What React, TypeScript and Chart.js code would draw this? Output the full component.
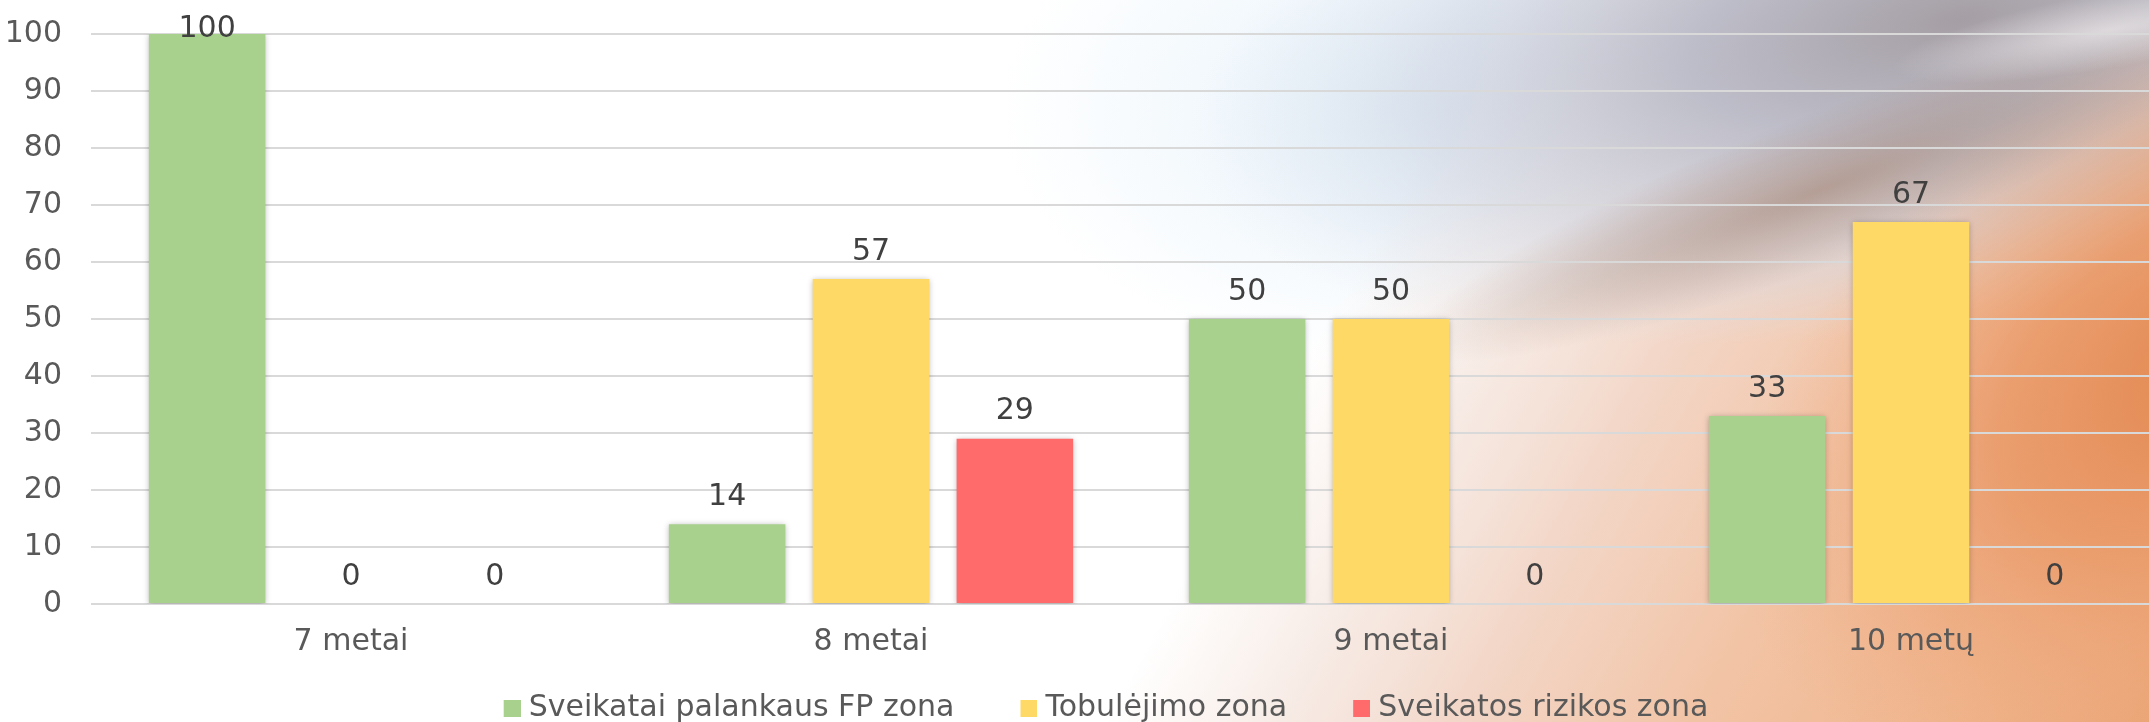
import React, { useEffect, useRef } from "react";
import { Chart, registerables } from "chart.js";

Chart.register(...registerables);

const categories = ["7 metai", "8 metai", "9 metai", "10 metų"];
const seriesNames = ["Sveikatai palankaus FP zona", "Tobulėjimo zona", "Sveikatos rizikos zona"];
const favorableZone = [100, 14, 50, 33];
const improvementZone = [0, 57, 50, 67];
const riskZone = [0, 29, 0, 0];
const seriesColors = ["#A9D18E", "#FFD966", "#FF6B6B"];
const yMin = 0;
const yMax = 100;
const yStep = 10;

const FONT = "'DejaVu Sans', sans-serif";
const TICK_COLOR = "#595959";
const LABEL_COLOR = "#404040";
const SWATCH = 17;
const SWATCH_SLOT = 51;

function makeSwatch(color: string) {
  const c = document.createElement("canvas");
  c.width = SWATCH_SLOT + 14;
  c.height = SWATCH;
  const g = c.getContext("2d");
  if (g) {
    g.fillStyle = color;
    g.fillRect(c.width - SWATCH, 0, SWATCH, SWATCH);
  }
  return c;
}

function ellipseGlow(
  ctx: CanvasRenderingContext2D,
  cx: number,
  cy: number,
  rx: number,
  ry: number,
  angleDeg: number,
  stops: [number, string][]
) {
  ctx.save();
  ctx.translate(cx, cy);
  ctx.rotate((angleDeg * Math.PI) / 180);
  ctx.scale(rx / ry, 1);
  const g = ctx.createRadialGradient(0, 0, 0, 0, 0, ry);
  stops.forEach(([o, c]) => g.addColorStop(o, c));
  ctx.fillStyle = g;
  ctx.beginPath();
  ctx.arc(0, 0, ry, 0, Math.PI * 2);
  ctx.fill();
  ctx.restore();
}

const backgroundPainter = {
  id: "backgroundPainter",
  beforeDraw(chart: any) {
    const ctx: CanvasRenderingContext2D = chart.ctx;
    const w = chart.width;
    const h = chart.height;
    ctx.save();
    ctx.fillStyle = "#ffffff";
    ctx.fillRect(0, 0, w, h);
    // faint icy-blue tint
    ellipseGlow(ctx, 1430, 110, 430, 260, 0, [
      [0, "rgba(226,240,250,0.9)"],
      [1, "rgba(226,240,250,0)"],
    ]);
    // broad peach sweep (diagonal)
    const pg = ctx.createLinearGradient(100, -182, 2049, 904);
    pg.addColorStop(0, "rgba(246,230,222,0)");
    pg.addColorStop(0.59, "rgba(246,230,222,0)");
    pg.addColorStop(0.66, "rgba(244,228,220,0.75)");
    pg.addColorStop(0.73, "rgba(242,212,196,0.95)");
    pg.addColorStop(0.82, "rgba(242,196,166,1)");
    pg.addColorStop(0.92, "rgba(240,182,142,1)");
    pg.addColorStop(1, "rgba(235,165,118,1)");
    ctx.fillStyle = pg;
    ctx.fillRect(0, 0, w, h);
    // grey-lavender towards the top right
    ellipseGlow(ctx, 1960, 20, 780, 300, -10, [
      [0, "rgba(165,158,164,1)"],
      [0.35, "rgba(186,187,200,0.95)"],
      [0.7, "rgba(208,213,226,0.6)"],
      [1, "rgba(222,229,240,0)"],
    ]);
    // deeper orange glow at the right edge
    ellipseGlow(ctx, 2220, 360, 540, 330, -35, [
      [0, "rgba(226,135,80,1)"],
      [0.45, "rgba(233,152,102,0.85)"],
      [1, "rgba(238,172,130,0)"],
    ]);
    // brown streak
    ellipseGlow(ctx, 1820, 190, 440, 75, -21, [
      [0, "rgba(158,122,102,0.55)"],
      [0.6, "rgba(165,132,115,0.25)"],
      [1, "rgba(170,140,125,0)"],
    ]);
    // soft white swirl at top right corner
    ellipseGlow(ctx, 2110, 30, 220, 38, -10, [
      [0, "rgba(238,234,234,0.7)"],
      [1, "rgba(238,234,234,0)"],
    ]);
    ctx.restore();
  },
};

const barEffects = {
  id: "barEffects",
  beforeDatasetsDraw(chart: any) {
    const ctx = chart.ctx;
    ctx.save();
    ctx.shadowColor = "rgba(0,0,0,0.28)";
    ctx.shadowBlur = 6;
    ctx.shadowOffsetX = 0;
    ctx.shadowOffsetY = 1;
  },
  afterDatasetsDraw(chart: any) {
    const ctx = chart.ctx;
    ctx.restore();
    ctx.save();
    ctx.font = `30px ${FONT}`;
    ctx.fillStyle = LABEL_COLOR;
    ctx.textAlign = "center";
    ctx.textBaseline = "middle";
    chart.data.datasets.forEach((ds: any, di: number) => {
      const meta = chart.getDatasetMeta(di);
      meta.data.forEach((bar: any, i: number) => {
        const v = ds.data[i];
        const y = Math.max(bar.y - 27, 29);
        ctx.fillText(String(v), bar.x, y);
      });
    });
    ctx.restore();
  },
};

export default function App() {
  const canvasRef = useRef<HTMLCanvasElement | null>(null);

  useEffect(() => {
    document.body.style.margin = "0";
    const canvas = canvasRef.current;
    if (!canvas) return;
    const swatches = seriesColors.map(makeSwatch);
    const chart = new Chart(canvas, {
      type: "bar",
      data: {
        labels: categories,
        datasets: [favorableZone, improvementZone, riskZone].map((d, i) => ({
          label: seriesNames[i],
          data: d,
          backgroundColor: seriesColors[i],
          borderWidth: 0,
          categoryPercentage: 0.83,
          barPercentage: 0.81,
        })),
      },
      options: {
        animation: false,
        responsive: false,
        maintainAspectRatio: false,
        devicePixelRatio: 1,
        layout: { padding: { top: 34, right: 29, bottom: 17, left: 0 } },
        plugins: {
          legend: {
            position: "bottom",
            labels: {
              font: { family: FONT, size: 30 },
              color: TICK_COLOR,
              usePointStyle: true,
              pointStyleWidth: SWATCH_SLOT,
              boxHeight: SWATCH,
              padding: 25,
              generateLabels: (ch: any) =>
                ch.data.datasets.map((ds: any, i: number) => ({
                  text: ds.label,
                  fillStyle: seriesColors[i],
                  strokeStyle: seriesColors[i],
                  lineWidth: 0,
                  pointStyle: swatches[i],
                  hidden: false,
                  datasetIndex: i,
                  fontColor: TICK_COLOR,
                })),
            },
          },
          tooltip: { enabled: false },
        },
        scales: {
          x: {
            grid: { display: false, drawTicks: false },
            border: { display: false },
            ticks: {
              font: { family: FONT, size: 30 },
              color: TICK_COLOR,
              padding: 20,
              maxRotation: 0,
              autoSkip: false,
            },
            afterFit: (scale: any) => {
              scale.height = 64;
            },
          },
          y: {
            min: yMin,
            max: yMax,
            grid: {
              color: "#D9D9D9",
              lineWidth: 2,
              drawTicks: true,
              tickLength: 29,
              tickColor: "rgba(0,0,0,0)",
            },
            border: { display: false },
            ticks: {
              stepSize: yStep,
              font: { family: FONT, size: 30 },
              color: TICK_COLOR,
              padding: 0,
            },
            afterFit: (scale: any) => {
              scale.width = 91;
            },
          },
        },
      },
      plugins: [backgroundPainter, barEffects],
    });
    return () => chart.destroy();
  }, []);

  return (
    <div
      style={{
        position: "fixed",
        left: 0,
        top: 0,
        width: 2149,
        height: 722,
        overflow: "hidden",
        background: "#ffffff",
      }}
    >
      <canvas ref={canvasRef} width={2200} height={750} style={{ width: 2200, height: 750, display: "block" }} />
    </div>
  );
}
